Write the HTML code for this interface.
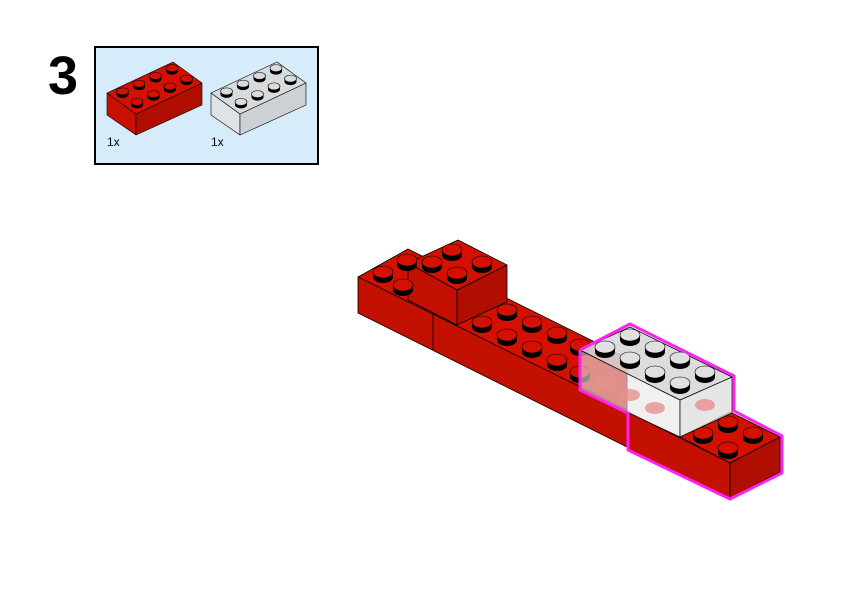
<!DOCTYPE html>
<html><head><meta charset="utf-8"><style>
html,body{margin:0;padding:0;background:#fff;}
svg{display:block;}
</style></head><body>
<svg id="s" width="842" height="596" viewBox="0 0 842 596" xmlns="http://www.w3.org/2000/svg">
<rect width="842" height="596" fill="#fff"/>
<text x="48" y="94" font-family="Liberation Sans, sans-serif" font-weight="bold" font-size="54" fill="#000">3</text>
<rect x="95" y="47" width="223" height="117" fill="#d6ecfb" stroke="#000" stroke-width="2"/>
<text x="107" y="146" font-family="Liberation Sans, sans-serif" font-size="12" fill="#000">1x</text>
<text x="211" y="146" font-family="Liberation Sans, sans-serif" font-size="12" fill="#000">1x</text>
<g id="parts" stroke="#000" stroke-width="0.6" stroke-linejoin="round">
  <polygon points="107,93 136,114 136,135 107,115" fill="#c81000"/>
  <polygon points="136,114 202,83 202,105 136,135" fill="#b00e00"/>
  <polygon points="107,93 173,62 202,83 136,114" fill="#d41100"/>
  <polygon points="211,93 240,114 240,135 211,115" fill="#dfe3e6"/>
  <polygon points="240,114 306,83 306,105 240,135" fill="#cdd1d4"/>
  <polygon points="211,93 277,62 306,83 240,114" fill="#d8dbdd"/>
</g>
<g id="main" stroke="#000" stroke-width="0.8" stroke-linejoin="round">
  <polygon points="358,277 408,249 627,358 627,410" fill="#d41100"/>
  <polygon points="358,277 627,410 627,447 358,313" fill="#c41000"/>
  <line x1="433" y1="313" x2="433" y2="350"/>
  <polygon points="408,263 457,290 457,325 408,300" fill="#c41000"/>
  <polygon points="457,290 507,265 507,302 457,325" fill="#b00e00"/>
  <polygon points="408,263 458,240 507,265 457,290" fill="#d41100"/>
  <polygon points="628,412 730,463 730,498 628,450" fill="#c41000"/>
  <polygon points="730,463 780,437 780,472 730,498" fill="#b00e00"/>
  <polygon points="680,437 730,412 780,437 730,463" fill="#d41100"/>
</g>
<g id="studs"></g>
<g id="clear" stroke="#000" stroke-width="0.7" stroke-linejoin="round">
  <polygon points="580,350 680,400 680,437 580,390" fill="#e6e6e6" fill-opacity="0.6"/>
  <polygon points="680,400 732,377 732,413 680,437" fill="#e0e0e0" fill-opacity="0.8"/>
  <polygon points="580,350 630,327 732,377 680,400" fill="#d8d8d8" fill-opacity="0.9"/>
</g>
<g fill="#e89090" opacity="0.8">
  <ellipse cx="605" cy="382" rx="10" ry="6"/>
  <ellipse cx="630" cy="395" rx="10" ry="6"/>
  <ellipse cx="655" cy="408" rx="10" ry="6"/>
  <ellipse cx="680" cy="420" rx="0" ry="0"/>
  <ellipse cx="705" cy="405" rx="10" ry="6"/>
</g>
<g id="studs2"></g>
<polyline points="580,350 630,324 734,376 734,411 782,436 782,473 730,499 628,450 628,413 580,390 580,350" fill="none" stroke="#ff22ee" stroke-width="3" stroke-linejoin="round"/>
</svg>
<script>
var NS="http://www.w3.org/2000/svg";
function stud(g,cx,cy,rx,ry,h,top){
  var grp=document.createElementNS(NS,"g");
  var e1=document.createElementNS(NS,"ellipse");
  e1.setAttribute("cx",cx);e1.setAttribute("cy",cy+h);e1.setAttribute("rx",rx);e1.setAttribute("ry",ry);e1.setAttribute("fill","#000");
  var r=document.createElementNS(NS,"rect");
  r.setAttribute("x",cx-rx);r.setAttribute("y",cy);r.setAttribute("width",2*rx);r.setAttribute("height",h);r.setAttribute("fill","#000");
  var e2=document.createElementNS(NS,"ellipse");
  e2.setAttribute("cx",cx);e2.setAttribute("cy",cy);e2.setAttribute("rx",rx);e2.setAttribute("ry",ry);e2.setAttribute("fill",top);e2.setAttribute("stroke","#000");e2.setAttribute("stroke-width","0.6");
  grp.appendChild(e1);grp.appendChild(r);grp.appendChild(e2);g.appendChild(grp);
}
var g=document.getElementById("studs"),g2=document.getElementById("studs2");
function boxStuds(L,B,F,col){
  for(var j=0;j<2;j++)for(var i=0;i<4;i++){
    var x=L[0]+(i+0.5)/4*(B[0]-L[0])+(j+0.5)/2*(F[0]-L[0]);
    var y=L[1]+(i+0.5)/4*(B[1]-L[1])+(j+0.5)/2*(F[1]-L[1]);
    stud(g,x,y-3,6,3.5,3,col);
  }
}
boxStuds([107,93],[173,62],[136,114],"#d41100");
boxStuds([211,93],[277,62],[240,114],"#d8dadc");
var R="#d41100";
[[407,260],[383,272],[403,285]].forEach(function(p){stud(g,p[0],p[1],10,6,5,R);});
[[452,250],[432,262],[482,262],[457,273]].forEach(function(p){stud(g,p[0],p[1],10,6,5,R);});
[[507,310],[482,322],[532,322],[507,335],[557,333],[532,347],[580,345],[557,360],[580,372]].forEach(function(p){stud(g,p[0],p[1],10,6,5,R);});
[[728,422],[703,433],[753,433],[728,448]].forEach(function(p){stud(g,p[0],p[1],10,6,5,R);});
[[630,335],[605,347],[655,347],[630,358],[680,358],[655,372],[705,372],[680,383]].forEach(function(p){stud(g2,p[0],p[1],10,6,5,"#e0e0e0");});
</script>
</body></html>
